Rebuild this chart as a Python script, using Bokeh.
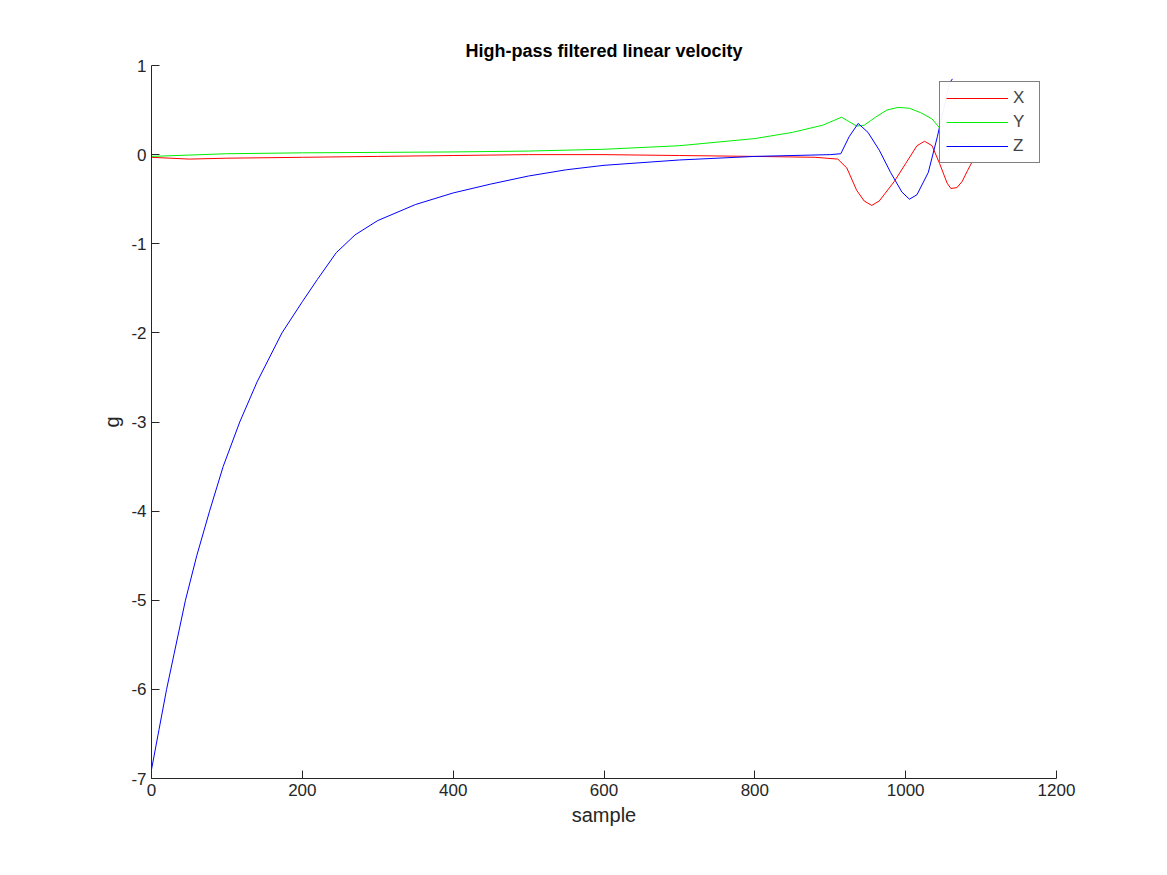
from bokeh.plotting import figure
from bokeh.models import Range1d, Legend, FixedTicker
from bokeh.embed import file_html
from bokeh.resources import INLINE

# values
x_samples = [0, 50, 100, 200, 300, 400, 500, 600, 700, 800, 880, 910, 922, 935, 945, 955, 965, 985,
             1000, 1015, 1025, 1035, 1045, 1055, 1060, 1068, 1075, 1082, 1090]
x_vals = [-0.03, -0.05, -0.04, -0.03, -0.02, -0.01, 0.0, 0.0, -0.01, -0.02, -0.03, -0.05, -0.15, -0.4,
          -0.52, -0.57, -0.52, -0.3, -0.1, 0.1, 0.15, 0.1, -0.1, -0.32, -0.38, -0.37, -0.3, -0.18, -0.05]

y_samples = [0, 100, 200, 300, 400, 500, 600, 700, 750, 800, 850, 890, 915, 925, 935, 945, 960, 975,
             990, 1005, 1020, 1035, 1045, 1055, 1065, 1080, 1090]
y_vals = [-0.02, 0.01, 0.02, 0.025, 0.03, 0.04, 0.06, 0.1, 0.14, 0.18, 0.25, 0.33, 0.42, 0.37, 0.32,
          0.33, 0.42, 0.5, 0.53, 0.52, 0.47, 0.4, 0.3, 0.18, 0.15, 0.12, 0.1]

z_samples = [0, 10, 20, 30, 45, 60, 77, 95, 117, 140, 173, 200, 220, 245, 270, 300, 350, 400, 450, 500,
             550, 600, 700, 800, 900, 914, 925, 937, 950, 965, 980, 995, 1005, 1015, 1030, 1042, 1050,
             1058, 1062]
z_vals = [-6.9, -6.45, -6.0, -5.6, -5.0, -4.5, -4.0, -3.5, -3.0, -2.55, -2.0, -1.65, -1.4, -1.1, -0.9,
          -0.74, -0.56, -0.43, -0.33, -0.24, -0.17, -0.12, -0.06, -0.02, 0.0, 0.01, 0.2, 0.35, 0.25, 0.05,
          -0.2, -0.42, -0.5, -0.45, -0.2, 0.2, 0.5, 0.8, 0.85]

x_ticks = [0, 200, 400, 600, 800, 1000, 1200]
y_ticks = [-7, -6, -5, -4, -3, -2, -1, 0, 1]

FONT = "Liberation Sans"

p = figure(width=1158, height=866, output_backend="svg", toolbar_location=None,
           title="High-pass filtered linear velocity",
           x_range=Range1d(0, 1200), y_range=Range1d(-7, 1),
           min_border_left=151, min_border_right=102, min_border_top=65, min_border_bottom=88)
p.title.align = "center"
p.title.text_font = FONT
p.title.text_font_size = "18px"
p.title.text_font_style = "bold"
p.title.text_color = "black"
p.outline_line_color = None
p.grid.grid_line_color = None

for ax, ticks, label in ((p.xaxis, x_ticks, "sample"), (p.yaxis, y_ticks, "g")):
    ax.ticker = FixedTicker(ticks=ticks)
    ax.major_label_overrides = {t: str(t) for t in ticks}
    ax.axis_label = label
    ax.axis_label_text_font = FONT
    ax.axis_label_text_font_size = "20px"
    ax.axis_label_text_font_style = "normal"
    ax.axis_label_text_color = "#262626"
    ax.major_label_text_font = FONT
    ax.major_label_text_font_size = "17px"
    ax.major_label_text_color = "#262626"
    ax.minor_tick_line_color = None
    ax.major_tick_in = 8
    ax.major_tick_out = 0
    ax.axis_line_color = "#262626"
    ax.major_tick_line_color = "#262626"

rx = p.line(x_samples, x_vals, line_color="red", line_width=1)
ry = p.line(y_samples, y_vals, line_color="#00ee00", line_width=1)
rz = p.line(z_samples, z_vals, line_color="blue", line_width=1)

legend = Legend(items=[("X", [rx]), ("Y", [ry]), ("Z", [rz])], location="top_right",
                border_line_color="black", label_text_font=FONT, label_text_font_size="17px",
                glyph_width=62, label_height=18, spacing=4, padding=6, margin=16)
p.add_layout(legend)

open("out.html", "w").write(file_html(p, INLINE))
